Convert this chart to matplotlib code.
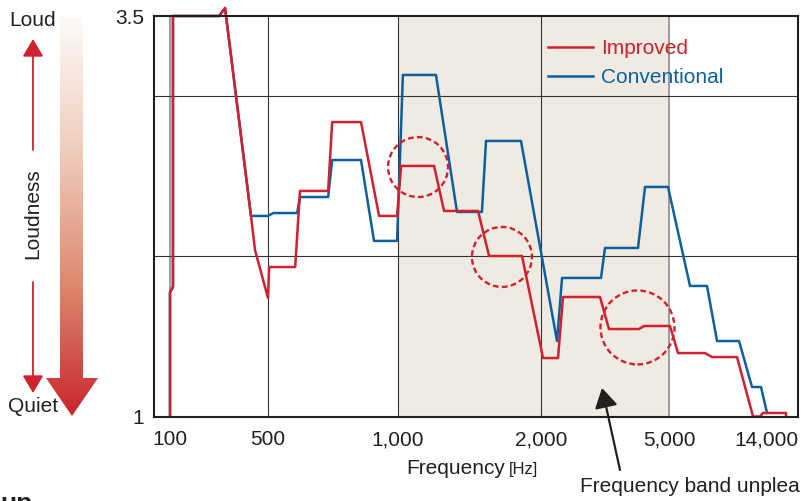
import numpy as np
import matplotlib.pyplot as plt
import matplotlib.patches as mpatches
import matplotlib.transforms as mtransforms
from matplotlib.colors import LinearSegmentedColormap
from matplotlib.ticker import NullLocator

plt.rcParams['font.family'] = ['Liberation Sans', 'DejaVu Sans']

# loudness curves (frequency in Hz, loudness value)
improved_hz = [100, 100, 105, 105, 224, 247, 378, 404, 500, 503, 578, 593, 689, 704, 821,
               904, 995, 1015, 1191, 1250, 1474, 1555, 1824, 2029, 2259, 2341, 3051, 3253,
               4034, 4181, 5053, 5502, 7328, 7894, 10292, 12199, 13140, 13560, 17310, 17310]
improved_val = [1.0, 1.777, 1.808, 3.5, 3.5, 3.55, 2.252, 2.039, 1.740, 1.933, 1.933, 2.408,
                2.408, 2.838, 2.838, 2.252, 2.252, 2.564, 2.564, 2.283, 2.283, 2.002, 2.002,
                1.365, 1.365, 1.746, 1.746, 1.546, 1.546, 1.565, 1.565, 1.396, 1.396, 1.371,
                1.371, 1.0, 1.0, 1.022, 1.022, 1.0]

conventional_hz = [100, 100, 105, 105, 224, 247, 378, 500, 514, 584, 593, 689, 704, 821, 880,
                   995, 1024, 1202, 1331, 1502, 1532, 1815, 2243, 2325, 3073, 3162, 4005, 4211,
                   4964, 6249, 7485, 8325, 10513, 12070, 13280, 14150]
conventional_val = [1.0, 1.777, 1.808, 3.5, 3.5, 3.55, 2.252, 2.252, 2.270, 2.270, 2.370,
                    2.370, 2.601, 2.601, 2.096, 2.096, 3.132, 3.132, 2.277, 2.277, 2.720, 2.720,
                    1.471, 1.865, 1.865, 2.052, 2.052, 2.433, 2.433, 1.815, 1.815, 1.471, 1.471,
                    1.184, 1.184, 1.022]

tick_hz = [100, 500, 1000, 2000, 5000, 14000]
tick_labels = ["100", "500", "1,000", "2,000", "5,000", "14,000"]
band_hz = [1000, 5000]

# dashed circles around improved spots
circle_hz = [1102, 1655, 3990]
circle_val = [2.557, 1.996, 1.556]
circle_r = [0.30, 0.30, 0.37]

RED = '#d1202f'
BLUE = '#0f5fa0'
INK = '#231f20'

# piecewise log scale for the frequency axis (tick positions in px from the left edge)
tick_pos = np.array([16, 114, 244, 387, 515, 612], dtype=float)
AX_W = 644.0
la = np.log10(tick_hz)
s0 = (tick_pos[1] - tick_pos[0]) / (la[1] - la[0])
s1 = (tick_pos[-1] - tick_pos[-2]) / (la[-1] - la[-2])
ext_l = np.concatenate([[0.0], la, [6.0]])
ext_p = np.concatenate([[tick_pos[0] - s0 * la[0]], tick_pos, [tick_pos[-1] + s1 * (6.0 - la[-1])]])


def fwd(f):
    f = np.clip(np.asarray(f, dtype=float), 1e-3, None)
    return np.interp(np.log10(f), ext_l, ext_p)


def inv(p):
    return 10 ** np.interp(np.asarray(p, dtype=float), ext_p, ext_l)


fig = plt.figure(figsize=(8.06, 5.01), dpi=100)
ax = fig.add_axes([154 / 806, (501 - 416.5) / 501, AX_W / 806, 400.5 / 501])
ax.set_xscale('function', functions=(fwd, inv))
ax.set_xlim(float(inv(0)), float(inv(AX_W)))
ax.set_ylim(1, 3.5)

ax.axvspan(band_hz[0], band_hz[1], color='#efebe2', lw=0, zorder=0)
for f in [500, 1000, 2000]:
    ax.axvline(f, color='#333333', lw=0.8, zorder=1)
for f in [100, 5000]:
    ax.axvline(f, color='#8c8c8c', lw=1.2, zorder=1)
for v in [2, 3]:
    ax.axhline(v, color='#333333', lw=0.8, zorder=1)

l_conv, = ax.plot(conventional_hz, conventional_val, color=BLUE, lw=1.8, zorder=3,
                  clip_on=False, label='Conventional')
l_imp, = ax.plot(improved_hz, improved_val, color=RED, lw=1.8, zorder=4,
                 clip_on=False, label='Improved')

for hz, val, r in zip(circle_hz, circle_val, circle_r):
    tr = fig.dpi_scale_trans + mtransforms.ScaledTranslation(hz, val, ax.transData)
    c = mpatches.Circle((0, 0), r, transform=tr, fill=False, ec=RED, lw=1.7,
                        ls=(0, (2.4, 1.4)), zorder=5, clip_on=False)
    ax.add_artist(c)

ax.legend(handles=[l_imp, l_conv], loc='upper left', bbox_to_anchor=(0.612, 0.943),
          frameon=False, fontsize=15, handlelength=2.16, handletextpad=0.4,
          labelspacing=0.5, borderpad=0, borderaxespad=0, labelcolor='linecolor')

ax.set_xticks(tick_hz)
ax.set_xticklabels(tick_labels)
ax.xaxis.set_minor_locator(NullLocator())
ax.set_yticks([1, 3.5])
ax.set_yticklabels(["1", "3.5"])
ax.yaxis.set_minor_locator(NullLocator())
ax.tick_params(axis='both', length=0, labelsize=15, colors=INK)
ax.tick_params(axis='x', pad=10)
ax.tick_params(axis='y', pad=7)
for sp in ax.spines.values():
    sp.set_color(INK)
    sp.set_linewidth(1.5)
    sp.set_zorder(6)

# overlay in pixel coordinates for the side arrows and notes
ov = fig.add_axes([0, 0, 1, 1], zorder=10)
ov.set_xlim(0, 806)
ov.set_ylim(501, 0)
ov.axis('off')
ov.patch.set_alpha(0)

cmap = LinearSegmentedColormap.from_list('loud', ['#fdfaf7', '#efcdbd', '#de8a70', '#c9262c'])
grad = np.linspace(0, 1, 256).reshape(-1, 1)
im = ov.imshow(grad, extent=(46, 98, 416, 17), aspect='auto', cmap=cmap, zorder=1)
shape = mpatches.Polygon([(60, 17), (83, 17), (83, 378), (98, 378), (72, 416), (46, 378), (60, 378)],
                         closed=True, transform=ov.transData, fc='none', ec='none')
ov.add_patch(shape)
im.set_clip_path(shape)

astyle = '-|>,head_length=0.54,head_width=0.32'
ov.annotate('', xy=(33, 39), xytext=(33, 150),
            arrowprops=dict(arrowstyle=astyle, color=RED, lw=1.3, mutation_scale=20,
                            shrinkA=0, shrinkB=0))
ov.annotate('', xy=(33, 393), xytext=(33, 282),
            arrowprops=dict(arrowstyle=astyle, color=RED, lw=1.3, mutation_scale=20,
                            shrinkA=0, shrinkB=0))
ov.text(33, 20, 'Loud', ha='center', va='center', fontsize=15, color=INK)
ov.text(33, 406, 'Quiet', ha='center', va='center', fontsize=15, color=INK)
ov.text(33, 214, 'Loudness', ha='center', va='center', rotation=90, fontsize=15, color=INK)

ov.text(505, 474, 'Frequency', ha='right', va='baseline', fontsize=15, color=INK)
ov.text(509, 474, '[Hz]', ha='left', va='baseline', fontsize=12, color=INK)

ov.annotate('', xy=(602, 388), xytext=(620, 470),
            arrowprops=dict(arrowstyle=astyle, color=INK, lw=1.6, mutation_scale=22,
                            shrinkA=0, shrinkB=0))
ov.text(580, 492, 'Frequency band unplea', ha='left', va='baseline', fontsize=15,
        color=INK, clip_on=True)
# heading below the chart, cut off by the bottom edge as in the source
ov.text(0, 511, 'up', ha='left', va='baseline', fontsize=19, fontweight='bold',
        color=INK, clip_on=True)

fig.savefig('out.png', dpi=100)
